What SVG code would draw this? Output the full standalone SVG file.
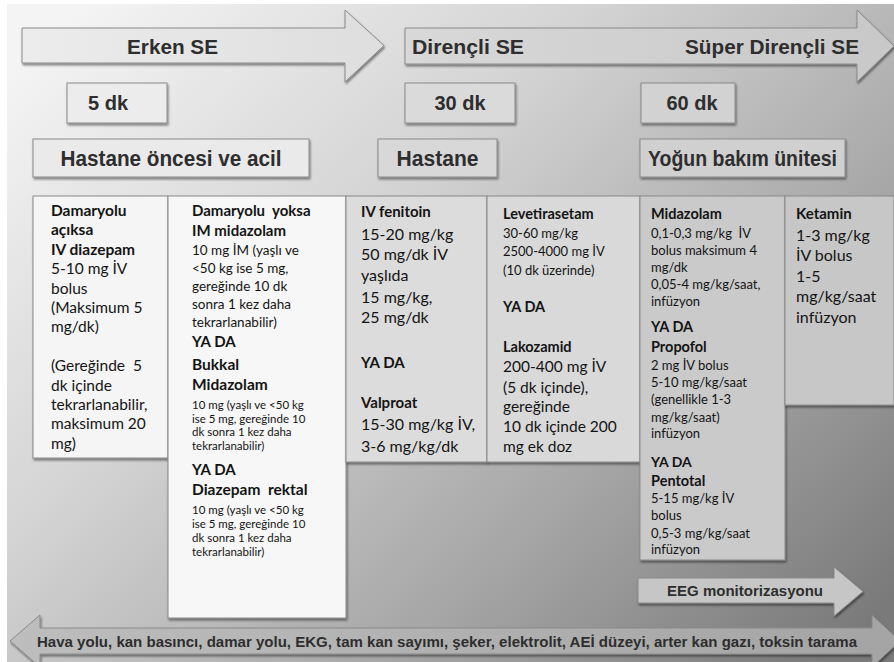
<svg xmlns="http://www.w3.org/2000/svg" width="894" height="662" viewBox="0 0 894 662">
<defs>
<linearGradient id="bg" x1="0" y1="0.1" x2="1" y2="0.9">
<stop offset="0" stop-color="#f4f4f4"/>
<stop offset="0.35" stop-color="#d4d4d4"/>
<stop offset="0.7" stop-color="#a6a6a6"/>
<stop offset="1" stop-color="#7a7a7a"/>
</linearGradient>
<linearGradient id="a1" x1="0" y1="0" x2="1" y2="0">
<stop offset="0" stop-color="#ececec"/><stop offset="1" stop-color="#dedede"/>
</linearGradient>
<linearGradient id="a2" x1="0" y1="0" x2="1" y2="0">
<stop offset="0" stop-color="#d8d8d8"/><stop offset="1" stop-color="#c8c8c8"/>
</linearGradient>
<linearGradient id="a3" x1="0" y1="0" x2="1" y2="0">
<stop offset="0" stop-color="#bdbdbd"/><stop offset="1" stop-color="#a4a4a4"/>
</linearGradient>
<filter id="sh" x="-5%" y="-5%" width="115%" height="125%">
<feDropShadow dx="1" dy="2" stdDeviation="1.2" flood-color="#000" flood-opacity="0.45"/>
</filter>
<style>
.box{stroke:#8a8a8a;stroke-width:1;filter:url(#sh)}
.arr{stroke:#8a8a8a;stroke-width:1;filter:url(#sh)}
.h{font-family:"Liberation Sans",Arial,sans-serif;font-weight:bold;fill:#2e2e2e}
.t{font-family:Lato,"Open Sans",sans-serif;fill:#141414}
.b{font-weight:bold}
</style>
</defs>
<rect x="0" y="0" width="894" height="662" fill="#ffffff"/>
<rect x="7" y="4" width="887" height="658" fill="url(#bg)"/>

<g id="arrows">
<g id="erken-se">
<polygon class="arr" fill="url(#a1)" points="22,28 345,28 345,10 384,45.5 345,82 345,63 22,63"/>
<text class="h" x="127" y="54" font-size="20" textLength="91" lengthAdjust="spacingAndGlyphs">Erken SE</text>
</g>
<g id="direncli-se">
<polygon class="arr" fill="url(#a2)" points="405,28 857,28 857,10 894,46 857,82 857,64 405,64"/>
<text class="h" x="412" y="54" font-size="20" textLength="112" lengthAdjust="spacingAndGlyphs">Dirençli SE</text>
<text class="h" x="685" y="54" font-size="20" textLength="174" lengthAdjust="spacingAndGlyphs">Süper Dirençli SE</text>
</g>
<g id="eeg">
<polygon class="arr" fill="#c6c6c6" points="638,578 834,578 834,567 863,591.5 834,616 834,603 638,603"/>
<text class="h" x="745" y="596" font-size="15" text-anchor="middle" fill="#3a3a3a" textLength="156" lengthAdjust="spacingAndGlyphs">EEG monitorizasyonu</text>
</g>
<g id="genel-destek">
<polygon class="arr" fill="url(#a3)" points="10,641 40,615 40,628 872,628 872,615 900,641 872,667 872,654 40,654 40,667"/>
<text class="h" x="37" y="647" font-size="14" textLength="820" lengthAdjust="spacingAndGlyphs">Hava yolu, kan basıncı, damar yolu, EKG, tam kan sayımı, şeker, elektrolit, AEİ düzeyi, arter kan gazı, toksin tarama</text>
</g>
</g>

<g id="t5">
<rect class="box" x="67" y="83" width="100" height="40" fill="#ececec"/>
<text class="h" x="88" y="110" font-size="20">5 dk</text>
</g>
<g id="t30">
<rect class="box" x="405" y="83" width="110" height="40" fill="#dadada"/>
<text class="h" x="460" y="110" font-size="20" text-anchor="middle">30 dk</text>
</g>
<g id="t60">
<rect class="box" x="641" y="83" width="94" height="40" fill="#d2d2d2"/>
<text class="h" x="692" y="110" font-size="20" text-anchor="middle">60 dk</text>
</g>

<g id="hastane-oncesi">
<rect class="box" x="33" y="139" width="276" height="38" fill="#eaeaea"/>
<text class="h" x="171" y="166" font-size="22" text-anchor="middle" textLength="221" lengthAdjust="spacingAndGlyphs">Hastane öncesi ve acil</text>
</g>
<g id="hastane">
<rect class="box" x="378" y="139" width="119" height="38" fill="#d8d8d8"/>
<text class="h" x="437.5" y="166" font-size="22" text-anchor="middle" textLength="82" lengthAdjust="spacingAndGlyphs">Hastane</text>
</g>
<g id="yogun-bakim">
<rect class="box" x="640" y="139" width="205" height="38" fill="#d0d0d0"/>
<text class="h" x="742.5" y="166" font-size="22" text-anchor="middle" textLength="189" lengthAdjust="spacingAndGlyphs">Yoğun bakım ünitesi</text>
</g>

<g id="col1">
<rect class="box" x="33" y="196" width="135" height="262" fill="#f5f5f5"/>
<text class="t" font-size="15.5">
<tspan class="b" x="51" y="216">Damaryolu</tspan>
<tspan class="b" x="51" y="235.4">açıksa</tspan>
<tspan class="b" x="51" y="254.8">IV diazepam</tspan>
<tspan x="51" y="274.2">5-10 mg İV</tspan>
<tspan x="51" y="293.6">bolus</tspan>
<tspan x="51" y="313">(Maksimum 5</tspan>
<tspan x="51" y="332.4">mg/dk)</tspan>
<tspan x="51" y="371.2">(Gereğinde&#160; 5</tspan>
<tspan x="51" y="390.6">dk içinde</tspan>
<tspan x="51" y="410">tekrarlanabilir,</tspan>
<tspan x="51" y="429.4">maksimum 20</tspan>
<tspan x="51" y="448.8">mg)</tspan>
</text>
</g>

<g id="col2">
<rect class="box" x="168" y="196" width="178" height="422" fill="#f7f7f7"/>
<text class="t" font-size="13.5">
<tspan class="b" font-size="15" x="192" y="216">Damaryolu&#160; yoksa</tspan>
<tspan class="b" font-size="15" x="192" y="236">IM midazolam</tspan>
<tspan x="192" y="255">10 mg İM (yaşlı ve</tspan>
<tspan x="192" y="273">&lt;50 kg ise 5 mg,</tspan>
<tspan x="192" y="291">gereğinde 10 dk</tspan>
<tspan x="192" y="309">sonra 1 kez daha</tspan>
<tspan x="192" y="327">tekrarlanabilir)</tspan>
<tspan class="b" font-size="15" x="192" y="347">YA DA</tspan>
<tspan class="b" font-size="15.5" x="192" y="370">Bukkal</tspan>
<tspan class="b" font-size="15.5" x="192" y="390">Midazolam</tspan>
<tspan font-size="11.5" x="192" y="409">10 mg (yaşlı ve &lt;50 kg</tspan>
<tspan font-size="11.5" x="192" y="422.5">ise 5 mg, gereğinde 10</tspan>
<tspan font-size="11.5" x="192" y="436">dk sonra 1 kez daha</tspan>
<tspan font-size="11.5" x="192" y="449.5">tekrarlanabilir)</tspan>
<tspan class="b" font-size="15" x="192" y="475">YA DA</tspan>
<tspan class="b" font-size="15.5" x="192" y="495">Diazepam&#160; rektal</tspan>
<tspan font-size="11.5" x="192" y="514">10 mg (yaşlı ve &lt;50 kg</tspan>
<tspan font-size="11.5" x="192" y="528">ise 5 mg, gereğinde 10</tspan>
<tspan font-size="11.5" x="192" y="542">dk sonra 1 kez daha</tspan>
<tspan font-size="11.5" x="192" y="556">tekrarlanabilir)</tspan>
</text>
</g>

<g id="col3">
<rect class="box" x="346" y="196" width="141" height="266" fill="#dcdcdc"/>
<text class="t" font-size="16">
<tspan class="b" font-size="15" x="361" y="217">IV fenitoin</tspan>
<tspan x="361" y="240">15-20 mg/kg</tspan>
<tspan x="361" y="260">50 mg/dk İV</tspan>
<tspan x="361" y="281">yaşlıda</tspan>
<tspan x="361" y="303">15 mg/kg,</tspan>
<tspan x="361" y="323">25 mg/dk</tspan>
<tspan class="b" font-size="15" x="361" y="368">YA DA</tspan>
<tspan class="b" font-size="15" x="361" y="408">Valproat</tspan>
<tspan x="361" y="430">15-30 mg/kg İV,</tspan>
<tspan x="361" y="452">3-6 mg/kg/dk</tspan>
</text>
</g>

<g id="col4">
<rect class="box" x="487" y="196" width="153" height="266" fill="#d9d9d9"/>
<text class="t" font-size="13">
<tspan class="b" font-size="14.5" x="503" y="219">Levetirasetam</tspan>
<tspan x="503" y="238">30-60 mg/kg</tspan>
<tspan x="503" y="256">2500-4000 mg İV</tspan>
<tspan x="503" y="275">(10 dk üzerinde)</tspan>
<tspan class="b" font-size="14.5" x="503" y="312">YA DA</tspan>
<tspan class="b" font-size="14.5" x="503" y="352">Lakozamid</tspan>
<tspan font-size="15.5" x="503" y="372">200-400 mg İV</tspan>
<tspan font-size="15.5" x="503" y="393">(5 dk içinde),</tspan>
<tspan font-size="15.5" x="503" y="412">gereğinde</tspan>
<tspan font-size="15.5" x="503" y="432">10 dk içinde 200</tspan>
<tspan font-size="15.5" x="503" y="452">mg ek doz</tspan>
</text>
</g>

<g id="col5">
<rect class="box" x="640" y="196" width="145" height="364" fill="#cacaca"/>
<text class="t" font-size="13">
<tspan class="b" font-size="14.5" x="651" y="219">Midazolam</tspan>
<tspan x="651" y="238">0,1-0,3 mg/kg&#160; İV</tspan>
<tspan x="651" y="255">bolus maksimum 4</tspan>
<tspan x="651" y="272">mg/dk</tspan>
<tspan x="651" y="289">0,05-4 mg/kg/saat,</tspan>
<tspan x="651" y="306">infüzyon</tspan>
<tspan class="b" font-size="14.5" x="651" y="332">YA DA</tspan>
<tspan class="b" font-size="14.5" x="651" y="352">Propofol</tspan>
<tspan x="651" y="370">2 mg İV bolus</tspan>
<tspan x="651" y="387">5-10 mg/kg/saat</tspan>
<tspan x="651" y="404">(genellikle 1-3</tspan>
<tspan x="651" y="422">mg/kg/saat)</tspan>
<tspan x="651" y="438">infüzyon</tspan>
<tspan class="b" font-size="14" x="651" y="467">YA DA</tspan>
<tspan class="b" font-size="14.5" x="651" y="486">Pentotal</tspan>
<tspan x="651" y="503">5-15 mg/kg İV</tspan>
<tspan x="651" y="520">bolus</tspan>
<tspan x="651" y="538">0,5-3 mg/kg/saat</tspan>
<tspan x="651" y="554">infüzyon</tspan>
</text>
</g>

<g id="col6">
<rect class="box" x="785" y="196" width="109" height="209" fill="#c7c7c7"/>
<text class="t" font-size="16">
<tspan class="b" font-size="15" x="796" y="219">Ketamin</tspan>
<tspan x="796" y="241">1-3 mg/kg</tspan>
<tspan x="796" y="261">İV bolus</tspan>
<tspan x="796" y="282">1-5</tspan>
<tspan x="796" y="302">mg/kg/saat</tspan>
<tspan x="796" y="323">infüzyon</tspan>
</text>
</g>
</svg>
